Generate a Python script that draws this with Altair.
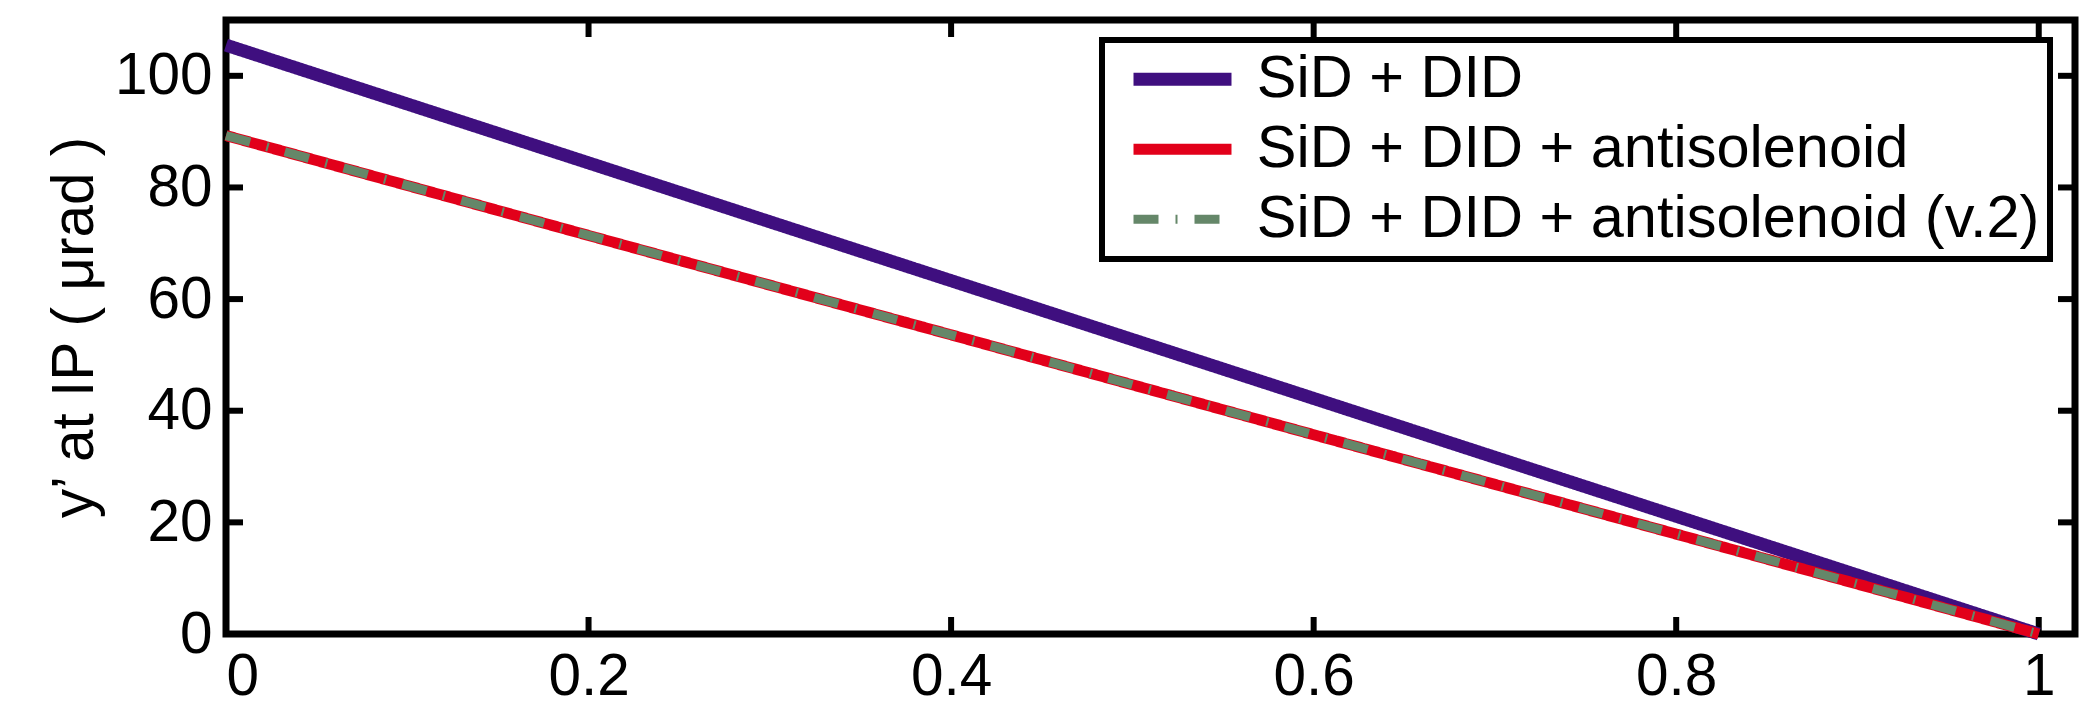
import altair as alt
import pandas as pd

# ---- data ----
series_names = ["SiD + DID", "SiD + DID + antisolenoid", "SiD + DID + antisolenoid (v.2)"]
x_vals = [0.0, 0.2, 0.4, 0.6, 0.8, 1.0]
sid_did = [105.5, 84.4, 63.3, 42.2, 21.1, 0.0]
sid_did_anti = [89.3, 71.4, 53.6, 35.7, 17.9, 0.0]
sid_did_anti_v2 = [89.3, 71.4, 53.6, 35.7, 17.9, 0.0]
colors = ["#3f0f7f", "#e2001a", "#658769"]
line_widths = [13, 9, 8]
dashes = [[1, 0], [1, 0], [25, 17, 2, 17]]
x_ticks = [0, 0.2, 0.4, 0.6, 0.8, 1]
y_ticks = [0, 20, 40, 60, 80, 100]
y_title = "y\u2019 at IP ( \u03bcrad )"

FONT = "Liberation Sans"
FS = 58.5
LEG_FS = 59.5
W, H = 1849, 614

rows = []
for name, vals in zip(series_names, [sid_did, sid_did_anti, sid_did_anti_v2]):
    for xv, yv in zip(x_vals, vals):
        rows.append({"x": xv, "y": yv, "series": name})
df = pd.DataFrame(rows)

xscale = alt.Scale(domain=[0, 1.02], nice=False, zero=False)
yscale = alt.Scale(domain=[0, 110], nice=False)

xaxis = alt.Axis(values=x_ticks, format="~g", labelFontSize=FS, labelFont=FONT,
                 labelPadding=14, ticks=False, domain=False, grid=False,
                 labelColor="black", title=None)
yaxis = alt.Axis(values=y_ticks, format="d", labelFontSize=FS, labelFont=FONT,
                 labelPadding=14, ticks=False, domain=False, grid=False,
                 labelColor="black", title=y_title, titleFontSize=FS,
                 titleFont=FONT, titleFontWeight="normal", titleColor="black",
                 titlePadding=10)

# legend sample: a horizontal stroke path 3 units long each side, scaled by sqrt(size)
legend = alt.Legend(title=None, orient="none", legendX=876, legendY=20,
                    symbolType="M-3,0H3", symbolSize=1067, clipHeight=FS,
                    labelFontSize=LEG_FS, labelFont=FONT, labelColor="black",
                    labelLimit=2000, labelOffset=44.5, symbolOffset=40.75,
                    rowPadding=10, padding=10, strokeColor="black",
                    fillColor="white")

lines = alt.Chart(df).mark_line().encode(
    x=alt.X("x:Q", scale=xscale, axis=xaxis),
    y=alt.Y("y:Q", scale=yscale, axis=yaxis),
    color=alt.Color("series:N", scale=alt.Scale(domain=series_names, range=colors),
                    legend=legend, sort=series_names),
    strokeWidth=alt.StrokeWidth("series:N", scale=alt.Scale(domain=series_names, range=line_widths),
                                legend=legend, sort=series_names),
    strokeDash=alt.StrokeDash("series:N", scale=alt.Scale(domain=series_names, range=dashes),
                              legend=legend, sort=series_names),
)

xt = pd.DataFrame({"x": x_ticks})
yt = pd.DataFrame({"y": y_ticks})
TL = 17
tick_style = dict(color="black", strokeWidth=6)

bottom_ticks = alt.Chart(xt).mark_rule(**tick_style).encode(
    x=alt.X("x:Q", scale=xscale, axis=xaxis), y=alt.value(H), y2=alt.value(H - TL))
top_ticks = alt.Chart(xt).mark_rule(**tick_style).encode(
    x=alt.X("x:Q", scale=xscale, axis=xaxis), y=alt.value(0), y2=alt.value(TL))
left_ticks = alt.Chart(yt).mark_rule(**tick_style).encode(
    y=alt.Y("y:Q", scale=yscale, axis=yaxis), x=alt.value(0), x2=alt.value(TL))
right_ticks = alt.Chart(yt).mark_rule(**tick_style).encode(
    y=alt.Y("y:Q", scale=yscale, axis=yaxis), x=alt.value(W), x2=alt.value(W - TL))

chart = alt.layer(bottom_ticks, top_ticks, left_ticks, right_ticks, lines).properties(
    width=W, height=H,
    background="white",
    autosize=alt.AutoSizeParams(type="none"),
    padding={"left": 226, "top": 20, "right": 2086 - 226 - W, "bottom": 707 - 20 - H},
).configure_view(
    stroke="black", strokeWidth=7
).configure_legend(
    strokeWidth=6
)

chart.save("out.html", embed_options={"renderer": "svg", "actions": False})
